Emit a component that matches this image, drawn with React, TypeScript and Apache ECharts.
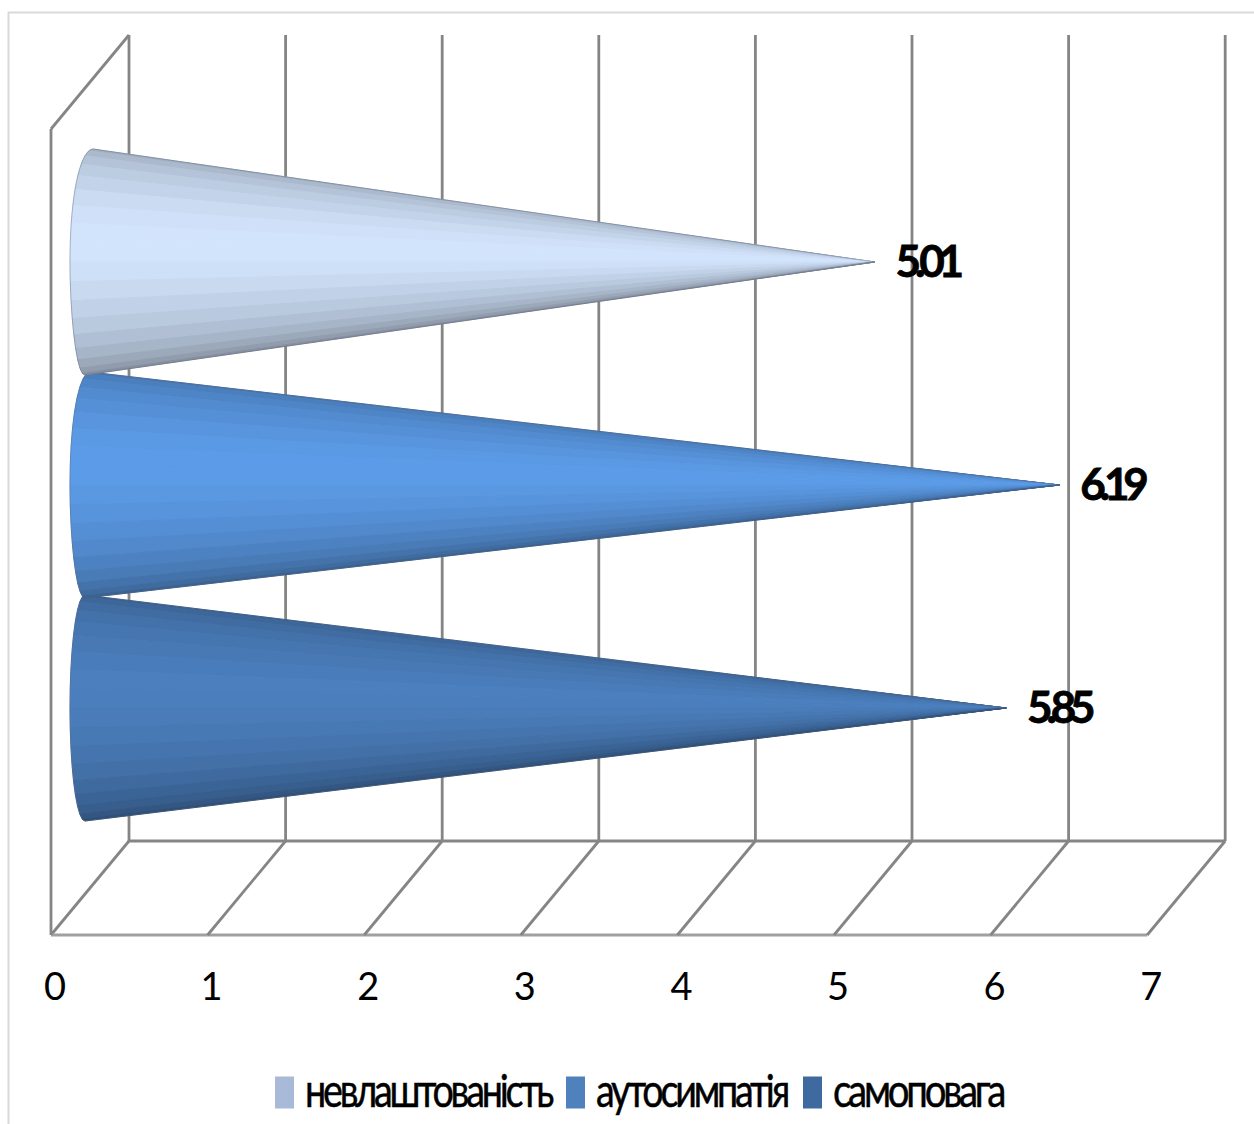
import React, { useEffect, useRef } from "react";
import * as echarts from "echarts";

const seriesNames = ["невлаштованість", "аутосимпатія", "самоповага"];
const seriesValues = [5.01, 6.19, 5.85];
const axisTicks = [0, 1, 2, 3, 4, 5, 6, 7];

// Brightest shade of each cone and the flat swatch shown in its legend entry.
const coneColors = ["#d3e5fd", "#5c9ce8", "#4b7fbe"];
const swatchColors = ["#a9b9d8", "#4f81bd", "#3f6a9f"];
// Horizontal position of the upper and lower end of each cone's base.
const baseEnds = [[93, 85], [90, 85], [85, 85]];
const legendLefts = [275, 566, 803];
// Condensed run length of each legend label.
const legendTextWidths = [246, 191, 170];

const GRID = { left: 51, top: 129, right: 1147.2, bottom: 935 };
const DEPTH_X = 78;
const DEPTH_Y = 94;
const LINE = "#858585";
const SLOT = 223;
const HALF_HEIGHT = 113;
const BASE_LEFT = 70;
const BANDS = 18;

function shade(hex: string, m: number) {
  const n = parseInt(hex.slice(1), 16);
  const c = [(n >> 16) & 255, (n >> 8) & 255, n & 255].map((v) => Math.round(v * m));
  return `rgb(${c[0]},${c[1]},${c[2]})`;
}

// Light falls just above the cone's axis and fades to both silhouette edges.
function lightAt(theta: number) {
  const peak = -0.18;
  const edge = theta < peak ? -Math.PI / 2 : Math.PI / 2;
  const floor = theta < peak ? 0.74 : 0.6;
  const t = (theta - peak) / (edge - peak);
  return 1 - (1 - floor) * Math.pow(t, 1.5);
}

function renderCone(index: number) {
  return (params: any, api: any) => {
    const sys = params.coordSys;
    const value = api.value(0);
    const midY = sys.y + sys.height / 2 - DEPTH_Y / 2 + (index - 1) * SLOT;
    const origin = api.coord([0, 0])[0];
    const tipX = api.coord([value, 0])[0] + DEPTH_X / 2;
    const zeroShift = origin + DEPTH_X / 2;
    const [topX, bottomX] = baseEnds[index];
    const base = (theta: number) => {
      const s = Math.sin(theta);
      const edgeX = topX + ((bottomX - topX) * (s + 1)) / 2;
      const bulge = edgeX - BASE_LEFT;
      return [edgeX - bulge * Math.cos(theta) + (zeroShift - 90), midY + HALF_HEIGHT * s];
    };
    const tip = [tipX, midY];
    const children: any[] = [];
    for (let i = 0; i < BANDS; i++) {
      const a = -Math.PI / 2 + (Math.PI * i) / BANDS;
      const b = -Math.PI / 2 + (Math.PI * (i + 1)) / BANDS;
      const fill = shade(coneColors[index], lightAt((a + b) / 2));
      children.push({
        type: "polygon",
        shape: { points: [tip, base(a), base(b)] },
        style: { fill, stroke: fill, lineWidth: 1, lineJoin: "bevel" },
      });
    }
    const outline: number[][] = [tip];
    for (let i = 0; i <= BANDS * 2; i++) outline.push(base(-Math.PI / 2 + (Math.PI * i) / (BANDS * 2)));
    outline.push(tip);
    children.push({
      type: "polyline",
      shape: { points: outline },
      style: { fill: "none", stroke: "rgba(90,100,120,0.4)", lineWidth: 1 },
    });
    children.push({
      type: "text",
      style: {
        text: value.toFixed(2),
        x: tipX + 21,
        y: midY - 2,
        align: "left",
        verticalAlign: "middle",
        fill: "#000",
        font: "bold 44px Lato",
      },
    });
    return { type: "group", children };
  };
}

// Back wall, floor and side wall of the 3D frame, one gridline per tick.
function renderFrame(params: any, api: any) {
  const sys = params.coordSys;
  const x = api.coord([api.value(0), 0])[0];
  const bottom = sys.y + sys.height;
  const backBottom = bottom - DEPTH_Y;
  const backTop = sys.y - DEPTH_Y;
  const line = (a: number[], b: number[], stroke = LINE, lineWidth = 2.8) => ({
    type: "line",
    shape: { x1: a[0], y1: a[1], x2: b[0], y2: b[1] },
    style: { stroke, lineWidth },
  });
  const children: any[] = [
    line([x + DEPTH_X, backTop], [x + DEPTH_X, backBottom]),
    line([x, bottom], [x + DEPTH_X, backBottom]),
  ];
  if (params.dataIndex === 0) {
    const right = sys.x + sys.width;
    children.push(line([x, bottom], [right, bottom], "#a0a0a0"));
    children.push(line([x + DEPTH_X, backBottom], [right + DEPTH_X, backBottom]));
    children.push(line([x, sys.y], [x, bottom]));
    children.push(line([x, sys.y], [x + DEPTH_X, backTop]));
  }
  return { type: "group", children };
}

export default function App() {
  const ref = useRef<HTMLDivElement>(null);

  useEffect(() => {
    const chart = echarts.init(ref.current!, null, { renderer: "svg" });

    // Legend labels are set condensed: their runs are squeezed to a fixed length
    // and lifted slightly against the swatches.
    const condenseLegend = () => {
      ref.current?.querySelectorAll("svg text").forEach((node) => {
        const i = seriesNames.indexOf(node.textContent || "");
        if (i >= 0) {
          node.setAttribute("textLength", String(legendTextWidths[i]));
          node.setAttribute("lengthAdjust", "spacingAndGlyphs");
          node.setAttribute("dy", "-4");
        }
      });
    };
    chart.on("finished", condenseLegend);

    chart.setOption({
      animation: false,
      backgroundColor: "#fff",
      grid: {
        left: GRID.left,
        top: GRID.top,
        width: GRID.right - GRID.left,
        height: GRID.bottom - GRID.top,
        containLabel: false,
      },
      xAxis: {
        type: "value",
        min: 0,
        max: 7,
        interval: 1,
        axisLine: { show: false },
        axisTick: { show: false },
        splitLine: { show: false },
        axisLabel: {
          show: true,
          margin: 31,
          padding: [0, 0, 0, 8],
          fontFamily: "Lato",
          fontSize: 38,
          color: "#000",
        },
      },
      yAxis: {
        type: "category",
        data: [""],
        axisLine: { show: false },
        axisTick: { show: false },
        axisLabel: { show: false },
      },
      legend: seriesNames.map((name, i) => ({
        data: [{ name, icon: "rect" }],
        left: legendLefts[i],
        top: 1069,
        padding: 0,
        itemWidth: 19,
        itemHeight: 32,
        itemGap: 0,
        selectedMode: false,
        textStyle: {
          fontFamily: "Lato",
          fontSize: 47,
          color: "#000",
          padding: [0, 0, 0, 6],
        },
      })),
      graphic: [
        {
          type: "polyline",
          silent: true,
          shape: { points: [[1254, 12.5], [8.5, 12.5], [8.5, 1124]] },
          style: { fill: "none", stroke: "#d9d9d9", lineWidth: 2 },
        },
      ],
      series: [
        {
          type: "custom",
          name: "frame",
          silent: true,
          z: 1,
          data: axisTicks.map((t) => [t, 0]),
          encode: { x: 0, y: 1 },
          renderItem: renderFrame,
        },
        ...seriesNames.map((name, i) => ({
          type: "custom",
          name,
          silent: true,
          z: 5 - i,
          itemStyle: { color: swatchColors[i] },
          data: [[seriesValues[i], 0]],
          encode: { x: 0, y: 1 },
          renderItem: renderCone(i),
        })),
      ],
    });
    condenseLegend();
    return () => chart.dispose();
  }, []);

  return (
    <>
      <style>{`
        #cone-chart svg text[style*="47px"] { letter-spacing: -4px; stroke: #000; stroke-width: 0.5px; }
        #cone-chart svg text[style*="44px"] { letter-spacing: -6.2px; stroke: #000; stroke-width: 0.8px; }
      `}</style>
      <div
        id="cone-chart"
        ref={ref}
        style={{ position: "absolute", left: 0, top: 0, width: 1254, height: 1124 }}
      />
    </>
  );
}
